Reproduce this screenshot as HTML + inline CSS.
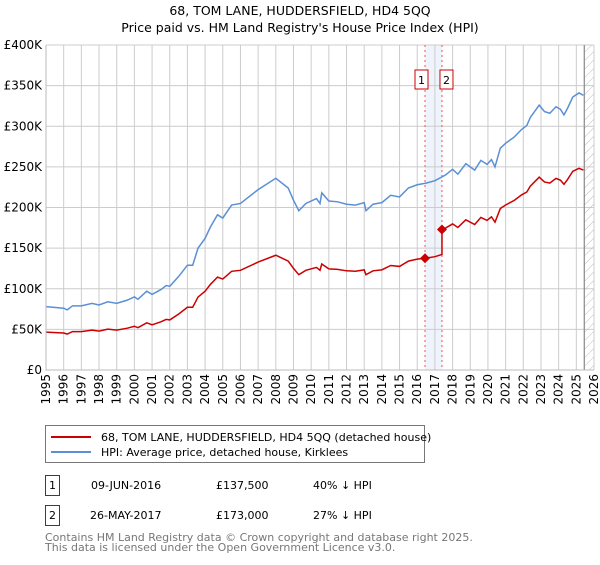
<!DOCTYPE html>
<html><head><meta charset="utf-8"><style>
body{margin:0;background:#fff;font-family:"Liberation Sans","DejaVu Sans",sans-serif;}
</style></head><body>
<svg id="c" width="600" height="560" xmlns="http://www.w3.org/2000/svg" font-family="DejaVu Sans, Liberation Sans, sans-serif">
<text x="300" y="15" text-anchor="middle" font-size="12.5">68, TOM LANE, HUDDERSFIELD, HD4 5QQ</text>
<text x="300" y="32" text-anchor="middle" font-size="12.5">Price paid vs. HM Land Registry's House Price Index (HPI)</text>
<g id="plot"></g>
<g>
<rect x="45.5" y="425.5" width="379" height="37" fill="#fff" stroke="#777"/>
<line x1="51" y1="437" x2="91" y2="437" stroke="#cc0000" stroke-width="2"/>
<text x="101" y="441" font-size="11">68, TOM LANE, HUDDERSFIELD, HD4 5QQ (detached house)</text>
<line x1="51" y1="452" x2="91" y2="452" stroke="#5b8fd6" stroke-width="2"/>
<text x="101" y="456" font-size="11">HPI: Average price, detached house, Kirklees</text>
</g>
<g font-size="11">
<rect x="45.5" y="475.5" width="14" height="20" fill="#fff" stroke="#cc0000"/><text x="52.5" y="489" text-anchor="middle">1</text>
<text x="91" y="489">09-JUN-2016</text><text x="216" y="489">£137,500</text><text x="313" y="489">40% ↓ HPI</text>
<rect x="45.5" y="505.5" width="14" height="20" fill="#fff" stroke="#cc0000"/><text x="52.5" y="519" text-anchor="middle">2</text>
<text x="90" y="519">26-MAY-2017</text><text x="216" y="519">£173,000</text><text x="313" y="519">27% ↓ HPI</text>
</g>
<text x="45" y="541" font-size="11" fill="#777">Contains HM Land Registry data © Crown copyright and database right 2025.</text>
<text x="45" y="551" font-size="11" fill="#777">This data is licensed under the Open Government Licence v3.0.</text>
</svg>
<script>
const hpiYears=[1995,1996,1996.2,1996.5,1997,1997.6,1998,1998.5,1999,1999.6,2000,2000.2,2000.7,2001,2001.5,2001.8,2002,2002.5,2003,2003.3,2003.6,2004,2004.3,2004.7,2005,2005.5,2006,2007,2008,2008.7,2009,2009.3,2009.7,2010.3,2010.5,2010.6,2011,2011.5,2012,2012.5,2013,2013.1,2013.5,2014,2014.5,2015,2015.5,2016,2016.5,2017,2017.6,2018,2018.3,2018.75,2019.25,2019.6,2019.95,2020.2,2020.4,2020.7,2021,2021.5,2021.9,2022.2,2022.4,2022.9,2023.2,2023.5,2023.85,2024.1,2024.3,2024.5,2024.8,2025.15,2025.4];
const hpiValues=[78,76,74,79,79,82,80,84,82,86,90,87,97,93,99,104,103,115,129,129,150,162,176,191,187,203,205,222,236,224,209,196,205,211,205,218,208,207,204,203,206,196,204,206,215,213,224,228,230,233,240,247,241,254,246,258,253,259,250,273,279,287,296,301,311,326,318,316,324,321,314,322,336,341,338];
const saleYears=[2016.44,2017.4];
const salePrices=[137.5,173];
const saleLabels=["1","2"];
const yTicks=[0,50,100,150,200,250,300,350,400];
const yTickLabels=["£0","£50K","£100K","£150K","£200K","£250K","£300K","£350K","£400K"];
const xTicks=[];for(let y=1995;y<=2026;y++)xTicks.push(y);
const L=46,R=594,T=45,B=370,x0=1995,x1=2026,dataEnd=2025.45;
const X=v=>L+(v-x0)/(x1-x0)*(594-L);
const Y=v=>B-v/400*(B-T);
const NS="http://www.w3.org/2000/svg";
const g=document.getElementById('plot');
function mk(t,a,p){const e=document.createElementNS(NS,t);for(const k in a)e.setAttribute(k,a[k]);(p||g).appendChild(e);return e;}
function hpiAt(t){for(let i=0;i<hpiYears.length-1;i++){if(t>=hpiYears[i]&&t<=hpiYears[i+1]){const f=(t-hpiYears[i])/(hpiYears[i+1]-hpiYears[i]);return hpiValues[i]+f*(hpiValues[i+1]-hpiValues[i]);}}return hpiValues[hpiValues.length-1];}
const band=mk('rect',{x:X(saleYears[0]),y:T,width:X(saleYears[1])-X(saleYears[0]),height:B-T,fill:'#eef3fc'});


yTicks.forEach((v,i)=>{const l=mk('line',{x1:L,x2:R,y1:Y(v),y2:Y(v),stroke:'#cccccc'});


const t=mk('text',{x:L-4,y:Y(v)+4,'text-anchor':'end','font-size':'12'});t.textContent=yTickLabels[i];

});
xTicks.forEach(v=>{const l=mk('line',{x1:X(v),x2:X(v),y1:T,y2:B,stroke:'#cccccc'});


const t=mk('text',{x:0,y:0,'text-anchor':'end','font-size':'12',transform:`translate(${X(v)+4},${B+4}) rotate(-90)`});t.textContent=v;

});
const defs=mk('defs',{});const pat=mk('pattern',{id:'h',width:6,height:6,patternUnits:'userSpaceOnUse',patternTransform:'rotate(45)'},defs);mk('line',{x1:0,y1:0,x2:0,y2:6,stroke:'#bbb','stroke-width':1},pat);
const hr=mk('rect',{x:X(dataEnd),y:T,width:R-X(dataEnd),height:B-T,fill:'url(#h)'});


const el=mk('line',{x1:X(dataEnd),x2:X(dataEnd),y1:T,y2:B,stroke:'#888','stroke-width':1.2});


saleYears.forEach((s,i)=>{const l=mk('line',{x1:X(s),x2:X(s),y1:T,y2:B,stroke:'#ee5555','stroke-dasharray':'2,3'});


const r=mk('rect',{x:i==0?X(s)-10:X(s)-2,y:70,width:13,height:19,fill:'#fff',stroke:'#cc0000'});


const t=mk('text',{x:(i==0?X(s)-10:X(s)-2)+6.5,y:84,'text-anchor':'middle','font-size':'11'});t.textContent=saleLabels[i];

});
const hp=mk('polyline',{points:hpiYears.map((y,i)=>X(y)+','+Y(hpiValues[i])).join(' '),fill:'none',stroke:'#5b8fd6','stroke-width':1.5});


const pts=[];
const r1=salePrices[0]/hpiAt(saleYears[0]),r2=salePrices[1]/hpiAt(saleYears[1]);
hpiYears.forEach((y,i)=>{if(y<saleYears[0])pts.push([y,hpiValues[i]*r1]);});
pts.push([saleYears[0],salePrices[0]]);
hpiYears.forEach((y,i)=>{if(y>saleYears[0]&&y<saleYears[1])pts.push([y,salePrices[0]*hpiValues[i]/hpiAt(saleYears[0])]);});
pts.push([saleYears[1],salePrices[0]*hpiAt(saleYears[1])/hpiAt(saleYears[0])]);
pts.push([saleYears[1],salePrices[1]]);
hpiYears.forEach((y,i)=>{if(y>saleYears[1])pts.push([y,hpiValues[i]*r2]);});
const pl=mk('polyline',{points:pts.map(p=>X(p[0])+','+Y(p[1])).join(' '),fill:'none',stroke:'#cc0000','stroke-width':1.5});


saleYears.forEach((s,i)=>{const cx=X(s),cy=Y(salePrices[i]);
const d=mk('polygon',{points:`${cx},${cy-5} ${cx+5},${cy} ${cx},${cy+5} ${cx-5},${cy}`,fill:'#cc0000'});

});
const ax=mk('polyline',{points:`${L},${T} ${L},${B} ${R},${B}`,fill:'none',stroke:'#bbb'});


</script>
</body></html>
